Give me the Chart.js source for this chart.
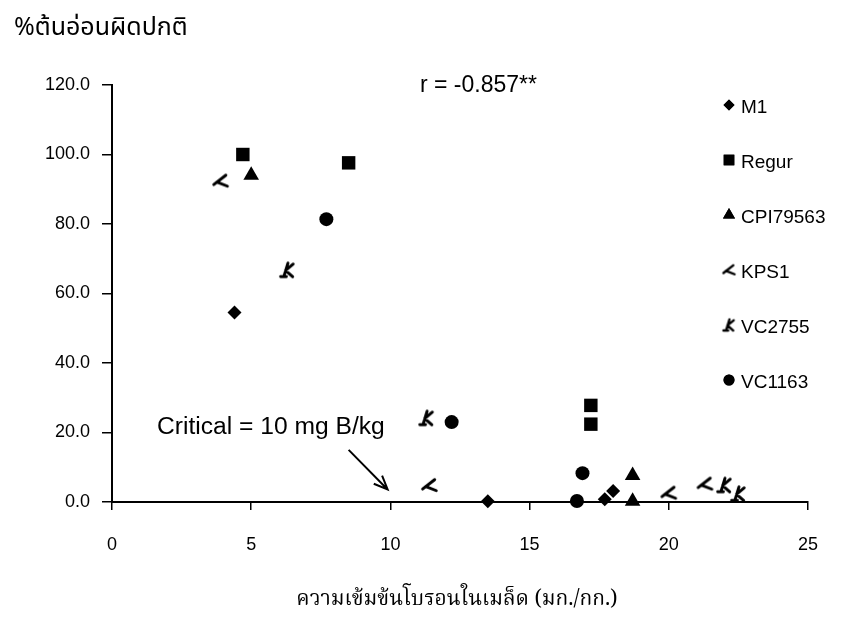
<!DOCTYPE html>
<html>
<head>
<meta charset="utf-8">
<script src="https://cdn.jsdelivr.net/npm/chart.js@4.4.0/dist/chart.umd.min.js"></script>
<style>
html,body{margin:0;padding:0;background:#fff;}
#wrap{width:845px;height:635px;position:relative;}
</style>
</head>
<body>
<div id="wrap"><canvas id="c" width="845" height="635"></canvas></div>
<script>
// ---- data ----
const seriesNames = ["M1", "Regur", "CPI79563", "KPS1", "VC2755", "VC1163"];
const m1X = [4.4, 13.5, 17.7, 18.0];
const m1Y = [54.5, 0.2, 0.8, 3.2];
const regurX = [4.7, 8.5, 17.2, 17.2];
const regurY = [100.0, 97.6, 27.8, 22.4];
const cpiX = [5.0, 18.7, 18.7];
const cpiY = [94.0, 7.6, 0.2];
const kps1X = [3.9, 11.4, 20.0, 21.3];
const kps1Y = [92.4, 4.8, 2.6, 5.2];
const vc2755X = [6.3, 11.3, 22.0, 22.5];
const vc2755Y = [66.8, 24.2, 4.9, 2.4];
const vc1163X = [7.7, 12.2, 16.9, 16.7];
const vc1163Y = [81.4, 23.0, 8.3, 0.3];
const xTicks = [0, 5, 10, 15, 20, 25];
const yTicks = [0, 20, 40, 60, 80, 100, 120];
const criticalValue = 10;
const rText = "r = -0.857**";
const criticalText = "Critical = 10 mg B/kg";
const yTitle = "%ต้นอ่อนผิดปกติ";
const xTitle = "ความเข้มข้นโบรอนในเมล็ด (มก./กก.)";

const pts = (xs, ys) => xs.map((x, i) => ({x: x, y: ys[i]}));
const LAT = '"Liberation Sans", Arial, sans-serif';
const THAI = '"Noto Sans Thai", "Noto Sans Thai UI", "Loma", "Garuda", "Tlwg Typo", "DejaVu Sans", sans-serif';
const THAI_SERIF = '"Noto Serif Thai", "Norasi", "Kinnari", "Noto Sans Thai", "Loma", serif';

function makeMarker(kind, scale) {
  const s = Math.round(20 * scale);
  const cv = document.createElement('canvas');
  cv.width = s; cv.height = s;
  const ctx = cv.getContext('2d');
  ctx.translate(s / 2, s / 2);
  ctx.scale(scale, scale);
  ctx.strokeStyle = '#000';
  ctx.lineWidth = 2.8;
  ctx.lineCap = 'round';
  ctx.beginPath();
  if (kind === 'kps') {
    ctx.moveTo(5, -5.5);
    ctx.lineTo(-6.5, 3.5);
    ctx.moveTo(-3.5, 1);
    ctx.lineTo(6.5, 5);
  } else {
    ctx.moveTo(0.5, -6.5);
    ctx.lineTo(-3.5, 6.5);
    ctx.moveTo(-1.8, 0.5);
    ctx.lineTo(5.5, -5.5);
    ctx.moveTo(-1.8, 0.5);
    ctx.lineTo(5, 6.5);
    ctx.moveTo(-6.5, 6.5);
    ctx.lineTo(-1, 6.5);
  }
  ctx.stroke();
  return cv;
}
const kpsMarker = makeMarker('kps', 1.05);
const vcMarker = makeMarker('vc', 1.05);
const kpsLegend = makeMarker('kps', 0.85);
const vcLegend = makeMarker('vc', 0.85);

const datasets = [
  {label: seriesNames[0], data: pts(m1X, m1Y), pointStyle: 'rectRot', pointRadius: 7, legendRadius: 5.5},
  {label: seriesNames[1], data: pts(regurX, regurY), pointStyle: 'rect', pointRadius: 9.5, legendRadius: 7.5},
  {label: seriesNames[2], data: pts(cpiX, cpiY), pointStyle: 'triangle', pointRadius: 9, legendRadius: 7},
  {label: seriesNames[3], data: pts(kps1X, kps1Y), pointStyle: kpsMarker, legendImg: kpsLegend},
  {label: seriesNames[4], data: pts(vc2755X, vc2755Y), pointStyle: vcMarker, legendImg: vcLegend},
  {label: seriesNames[5], data: pts(vc1163X, vc1163Y), pointStyle: 'circle', pointRadius: 7, legendRadius: 5.5}
].map(d => Object.assign({
  backgroundColor: '#000', borderColor: '#000', borderWidth: 0,
  pointHoverRadius: d.pointRadius || 3, showLine: false, clip: false
}, d));

const overlay = {
  id: 'overlay',
  afterDraw(chart) {
    const ctx = chart.ctx;
    const xs = chart.scales.x, ys = chart.scales.y;
    ctx.save();
    ctx.fillStyle = '#000';
    ctx.strokeStyle = '#000';
    // y title
    ctx.font = '25px ' + THAI;
    ctx.textAlign = 'left';
    ctx.textBaseline = 'middle';
    ctx.fillText(yTitle, 14, 30);
    // x title
    ctx.font = '21px ' + THAI_SERIF;
    ctx.textAlign = 'center';
    ctx.fillText(xTitle, 457, 602);
    // r annotation
    ctx.font = '23px ' + LAT;
    ctx.textAlign = 'left';
    ctx.fillText(rText, 420, 86);
    // critical text
    ctx.font = '23px ' + LAT;
    ctx.textAlign = 'left';
    ctx.save();
    ctx.translate(157, 428);
    ctx.scale(1.07, 1);
    ctx.fillText(criticalText, 0, 0);
    ctx.restore();
    // arrow
    const tipX = xs.getPixelForValue(criticalValue - 0.1), tipY = ys.getPixelForValue(3.6);
    const tailX = xs.getPixelForValue(criticalValue - 1.5), tailY = ys.getPixelForValue(15);
    ctx.lineWidth = 2;
    ctx.beginPath();
    ctx.moveTo(tailX, tailY);
    ctx.lineTo(tipX, tipY);
    const ang = Math.atan2(tipY - tailY, tipX - tailX);
    const hl = 15, ha = 0.4;
    ctx.moveTo(tipX - hl * Math.cos(ang - ha), tipY - hl * Math.sin(ang - ha));
    ctx.lineTo(tipX, tipY);
    ctx.lineTo(tipX - hl * Math.cos(ang + ha), tipY - hl * Math.sin(ang + ha));
    ctx.stroke();
    // legend
    const lx = 729, ltx = 741, ly0 = 108, lstep = 55;
    ctx.font = '19px ' + LAT;
    ctx.textAlign = 'left';
    ctx.textBaseline = 'middle';
    chart.data.datasets.forEach((ds, i) => {
      const y = ly0 + i * lstep;
      const my = y - 3;
      if (ds.legendImg) {
        ctx.drawImage(ds.legendImg, lx - ds.legendImg.width / 2, my - ds.legendImg.height / 2);
      } else {
        Chart.helpers.drawPoint(ctx, {pointStyle: ds.pointStyle, radius: ds.legendRadius, rotation: 0, borderWidth: 0}, lx, my);
        ctx.fillStyle = '#000';
        ctx.fill();
      }
      ctx.fillStyle = '#000';
      ctx.fillText(ds.label, ltx, y);
    });
    ctx.restore();
  }
};

new Chart(document.getElementById('c'), {
  type: 'scatter',
  data: {datasets: datasets},
  options: {
    responsive: false,
    animation: false,
    devicePixelRatio: 1,
    layout: {padding: {left: 0, right: 37, top: 85, bottom: 0}},
    plugins: {legend: {display: false}, tooltip: {enabled: false}, title: {display: false}},
    scales: {
      x: {
        type: 'linear', min: xTicks[0], max: xTicks[xTicks.length - 1],
        afterBuildTicks: s => { s.ticks = xTicks.map(v => ({value: v})); },
        ticks: {color: '#000', font: {size: 18, family: LAT}, padding: 24, maxRotation: 0},
        grid: {drawOnChartArea: false, drawTicks: true, tickLength: 8, color: '#000', tickColor: '#000', lineWidth: 1.5},
        border: {display: true, color: '#000', width: 2},
        afterFit: s => { s.height = 133; }
      },
      y: {
        type: 'linear', min: yTicks[0], max: yTicks[yTicks.length - 1],
        afterBuildTicks: s => { s.ticks = yTicks.map(v => ({value: v})); },
        ticks: {color: '#000', font: {size: 18, family: LAT}, padding: 12, callback: v => Number(v).toFixed(1)},
        grid: {drawOnChartArea: false, drawTicks: true, tickLength: 10, color: '#000', tickColor: '#000', lineWidth: 1.5},
        border: {display: true, color: '#000', width: 2},
        afterFit: s => { s.width = 112; }
      }
    }
  },
  plugins: [overlay]
});
</script>
</body>
</html>
